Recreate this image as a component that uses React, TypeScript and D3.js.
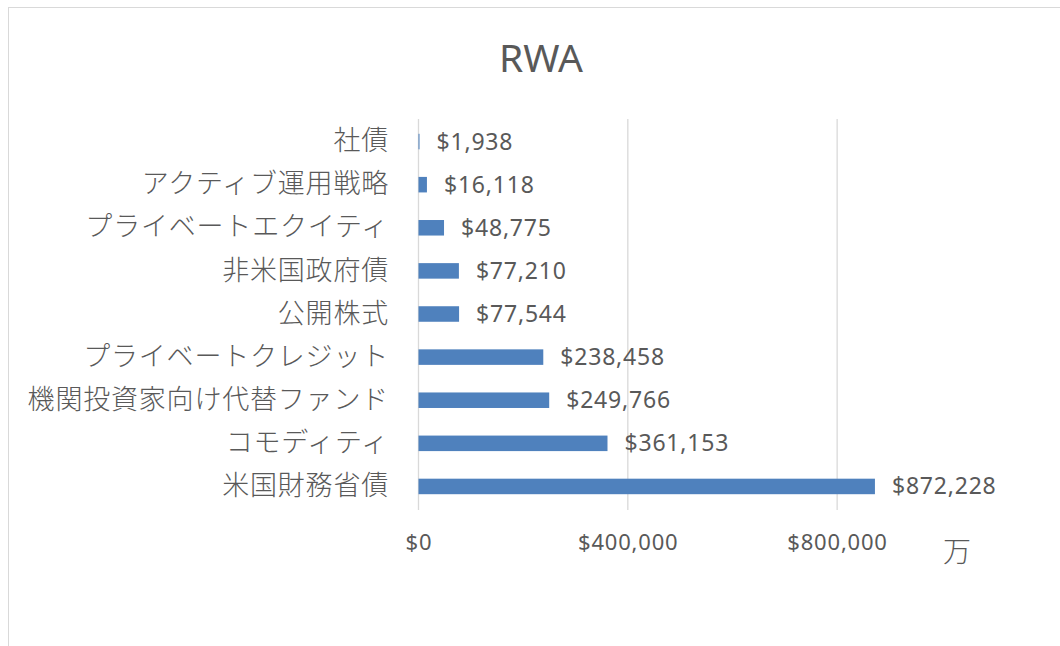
import * as d3 from "d3";

const categories = [
  "社債",
  "アクティブ運用戦略",
  "プライベートエクイティ",
  "非米国政府債",
  "公開株式",
  "プライベートクレジット",
  "機関投資家向け代替ファンド",
  "コモディティ",
  "米国財務省債",
];
const values = [1938, 16118, 48775, 77210, 77544, 238458, 249766, 361153, 872228];
const xTicks = [0, 400000, 800000];
const title = "RWA";
const unitLabel = "万";

const W = 1060, H = 646;
const textColor = "#595959";
const gridColor = "#d9d9d9";
const barColor = "#4f81bd";
const numFont = "'Noto Sans', sans-serif";
const cjkFont = "'Noto Sans CJK JP', sans-serif";

const fmt = (v: number) => "$" + d3.format(",")(v);

export default function App() {
  const x = d3.scaleLinear().domain([0, 1000000]).range([418.5, 941.8]);
  const y = d3.scaleBand<string>().domain(categories).range([119, 507]).paddingInner(0.64).paddingOuter(0.32);
  const band = d3.scaleBand<string>().domain(categories).range([119, 507]);

  return (
    <div style={{ position: "absolute", left: 0, top: 0 }}>
      <svg width={W} height={H}>
        <rect x={0} y={0} width={W} height={H} fill="#fff" />
        <rect x={8.5} y={7.5} width={W + 20} height={H + 20} fill="none" stroke={gridColor} />

        <text x={541} y={72} textAnchor="middle" fontFamily={numFont} fontSize={39} fill={textColor}>
          {title}
        </text>

        {xTicks.map((t) => (
          <g key={t}>
            <line x1={x(t)} x2={x(t)} y1={119} y2={510} stroke={gridColor} strokeWidth={1.3} />
            <text x={x(t) + 0.4} y={542} dy="0.35em" textAnchor="middle" fontFamily={numFont}
              fontSize={22} letterSpacing={0.8} fill={textColor}>
              {fmt(t)}
            </text>
          </g>
        ))}

        {categories.map((c, i) => (
          <g key={c}>
            <rect x={x(0)} y={y(c)! + 1} width={x(values[i]) - x(0)} height={y.bandwidth()} fill={barColor} />
            <text x={389} y={band(c)! + band.bandwidth() / 2} dy="0.36em" textAnchor="end" fontFamily={cjkFont}
              fontSize={27} fontWeight={300} letterSpacing={0.8} fill={textColor}>
              {c}
            </text>
            <text x={x(values[i]) + 17} y={band(c)! + band.bandwidth() / 2 + 1} dy="0.35em" fontFamily={numFont}
              fontSize={23} letterSpacing={0.8} fill={textColor}>
              {fmt(values[i])}
            </text>
          </g>
        ))}

        <text x={957} y={552} dy="0.36em" textAnchor="middle" fontFamily={cjkFont} fontSize={28}
          fontWeight={300} fill={textColor}>
          {unitLabel}
        </text>
      </svg>
    </div>
  );
}
